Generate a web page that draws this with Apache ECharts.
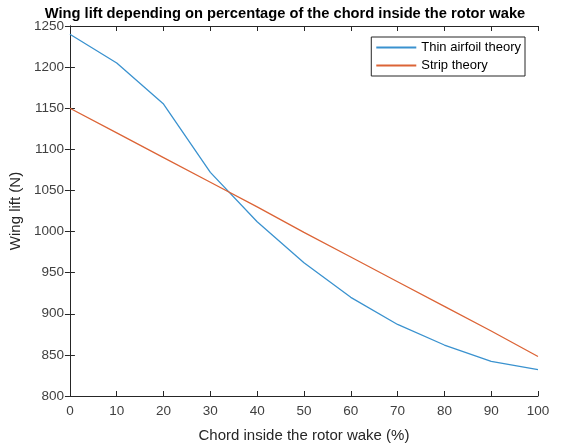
<!DOCTYPE html>
<html><head><meta charset="utf-8">
<script src="https://cdn.jsdelivr.net/npm/echarts@6/dist/echarts.min.js"></script>
<style>html,body{margin:0;padding:0;background:#fff}#c{width:563px;height:448px}</style>
</head><body><div id="c"></div>
<script>
const xValues = [0,10,20,30,40,50,60,70,80,90,100];
const thinAirfoil = [1240,1205,1155,1072,1012,962,920,887,862,842,832];
const stripTheory = [1150,1120,1090,1060,1030,999,969,939,909,879,848];
const seriesNames = ['Thin airfoil theory','Strip theory'];
const chart = echarts.init(document.getElementById('c'));
const font = 'Liberation Sans, Arial, sans-serif';
const axisLine = {show:true, lineStyle:{color:'#262626', width:1}};
const tick = {show:true, inside:true, length:5, lineStyle:{color:'#262626'}};
chart.setOption({
  animation:false,
  backgroundColor:'#fff',
  title:{text:'Wing lift depending on percentage of the chord inside the rotor wake', top:1,
    textStyle:{fontFamily:font, fontSize:14.7, fontWeight:'bold', color:'#000'}, left:280, textAlign:'center'},
  grid:{left:67, right:25, top:26, bottom:52},
  legend:{orient:'vertical', right:38, top:37, itemWidth:40, itemHeight:2, itemGap:5,
    borderColor:'#262626', borderWidth:1, padding:[4,4,4,5], backgroundColor:'#fff',
    icon:'rect', textStyle:{fontFamily:font, fontSize:13, color:'#000'}, data:seriesNames},
  xAxis:[{type:'value', min:0, max:100, interval:10, name:'Chord inside the rotor wake (%)', nameLocation:'middle', nameGap:32,
    nameTextStyle:{fontFamily:font, fontSize:15, color:'#262626'},
    axisLine, axisTick:tick, splitLine:{show:false},
    axisLabel:{fontFamily:font, fontSize:13.5, color:'#404040', margin:8}},
    {type:'value', position:'top', min:0, max:100, interval:10, axisLine, axisTick:tick, axisLabel:{show:false}, splitLine:{show:false}}],
  yAxis:[{type:'value', min:800, max:1250, interval:50, name:'Wing lift (N)', nameLocation:'middle', nameGap:44,
    nameTextStyle:{fontFamily:font, fontSize:15, color:'#262626'},
    axisLine, axisTick:tick, splitLine:{show:false},
    axisLabel:{fontFamily:font, fontSize:13.5, color:'#404040', margin:6, formatter:v=>String(v)}},
    {type:'value', position:'right', min:800, max:1250, interval:50, axisLine, axisTick:tick, axisLabel:{show:false}, splitLine:{show:false}}],
  series:[
    {name:seriesNames[0], type:'line', data:xValues.map((x,i)=>[x,thinAirfoil[i]]), showSymbol:false, symbol:'none',
      lineStyle:{color:'#3a92cf', width:1.3}, itemStyle:{color:'#3a92cf'}},
    {name:seriesNames[1], type:'line', data:xValues.map((x,i)=>[x,stripTheory[i]]), showSymbol:false, symbol:'none',
      lineStyle:{color:'#dc6436', width:1.3}, itemStyle:{color:'#dc6436'}}
  ]
});
</script></body></html>
